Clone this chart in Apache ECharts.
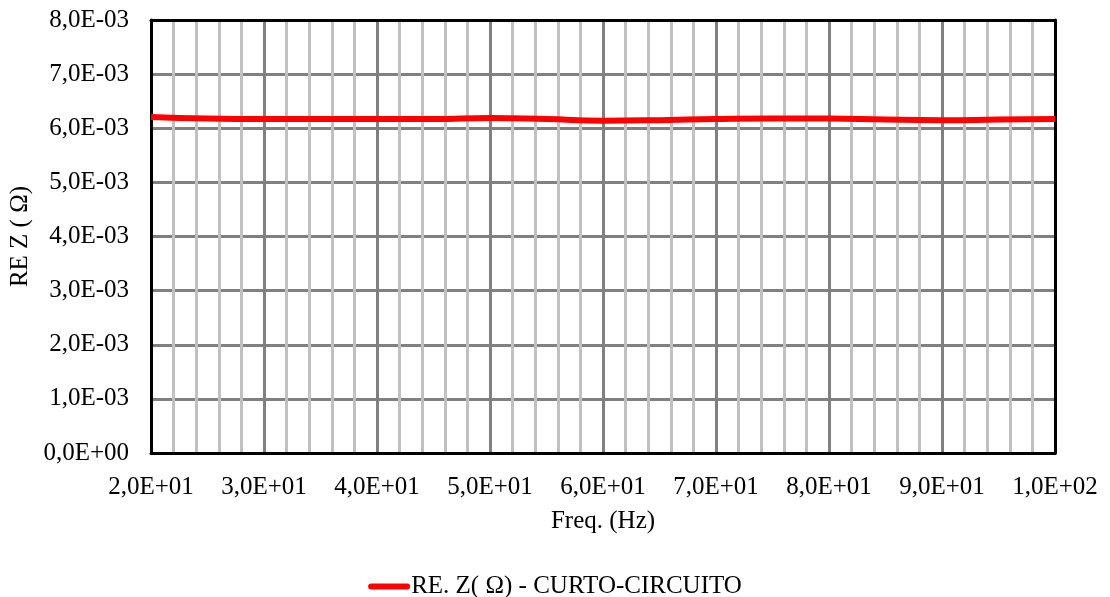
<!DOCTYPE html>
<html>
<head>
<meta charset="utf-8">
<script src="https://cdn.jsdelivr.net/npm/echarts@6/dist/echarts.min.js"></script>
<style>html,body{margin:0;padding:0;background:#fff}#c{width:1110px;height:597px}</style>
</head>
<body>
<div id="c"></div>
<script>
const freq = [20, 25, 30, 35, 40, 45, 50, 55, 60, 65, 70, 75, 80, 85, 90, 95, 100];
const reZ = [6.21e-3, 6.18e-3, 6.17e-3, 6.17e-3, 6.17e-3, 6.17e-3, 6.19e-3, 6.17e-3, 6.14e-3, 6.15e-3, 6.17e-3, 6.18e-3, 6.18e-3, 6.16e-3, 6.15e-3, 6.16e-3, 6.17e-3];
const seriesName = 'RE. Z( \u03A9) - CURTO-CIRCUITO';
const xTitle = 'Freq. (Hz)';
const yTitle = 'RE Z ( \u03A9)';

function sci(v) {
  if (v === 0) return '0,0E+00';
  let e = Math.floor(Math.log10(Math.abs(v)) + 1e-9);
  let m = v / Math.pow(10, e);
  let ms = m.toFixed(1).replace('.', ',');
  let es = (e < 0 ? '-' : '+') + String(Math.abs(e)).padStart(2, '0');
  return ms + 'E' + es;
}

const font = 'Liberation Serif';
const chart = echarts.init(document.getElementById('c'));
chart.setOption({
  animation: false,
  grid: { left: 151, right: 55, top: 20, bottom: 144, containLabel: false, outerBoundsMode: 'none' },
  legend: {
    top: 569, left: 'center',
    itemWidth: 42, itemHeight: 6, itemGap: 2,
    textStyle: { fontFamily: font, fontSize: 25, color: '#000', padding: [0, 0, 0, -4] },
    data: [{ name: seriesName, icon: 'path://M3,0 L39,0 A3,3 0 0 1 39,6 L3,6 A3,3 0 0 1 3,0 Z' }]
  },
  xAxis: [{
    type: 'value', min: 20, max: 100, interval: 10,
    name: xTitle, nameLocation: 'middle', nameGap: 56,
    nameTextStyle: { fontFamily: font, fontSize: 25, color: '#000' },
    axisLine: { show: true, lineStyle: { color: '#000', width: 3 } },
    axisTick: { show: false },
    axisLabel: { formatter: sci, fontFamily: font, fontSize: 25, color: '#000', margin: 22 },
    splitLine: { show: true, lineStyle: { color: '#808080', width: 3 } },
    minorTick: { show: false, splitNumber: 5 },
    minorSplitLine: { show: true, lineStyle: { color: '#c0c0c0', width: 3 } }
  }, {
    type: 'value', min: 20, max: 100, position: 'top',
    axisLine: { show: true, onZero: false, lineStyle: { color: '#000', width: 3 } },
    axisTick: { show: false }, axisLabel: { show: false }, splitLine: { show: false }
  }],
  yAxis: [{
    type: 'value', min: 0, max: 0.008, interval: 0.001,
    name: yTitle, nameLocation: 'middle', nameGap: 117, nameRotate: 90,
    nameTextStyle: { fontFamily: font, fontSize: 25, color: '#000' },
    axisLine: { show: true, lineStyle: { color: '#000', width: 3 } },
    axisTick: { show: false },
    axisLabel: { formatter: sci, fontFamily: font, fontSize: 25, color: '#000', margin: 22 },
    splitLine: { show: true, lineStyle: { color: '#808080', width: 3 } }
  }, {
    type: 'value', min: 0, max: 0.008, position: 'right',
    axisLine: { show: true, onZero: false, lineStyle: { color: '#000', width: 3 } },
    axisTick: { show: false }, axisLabel: { show: false }, splitLine: { show: false }
  }],
  series: [{
    name: seriesName, type: 'line', smooth: true, symbol: 'none',
    data: freq.map((f, i) => [f, reZ[i]]),
    lineStyle: { color: '#ff0000', width: 6 },
    itemStyle: { color: '#ff0000' },
    z: 5
  }]
});
</script>
</body>
</html>
